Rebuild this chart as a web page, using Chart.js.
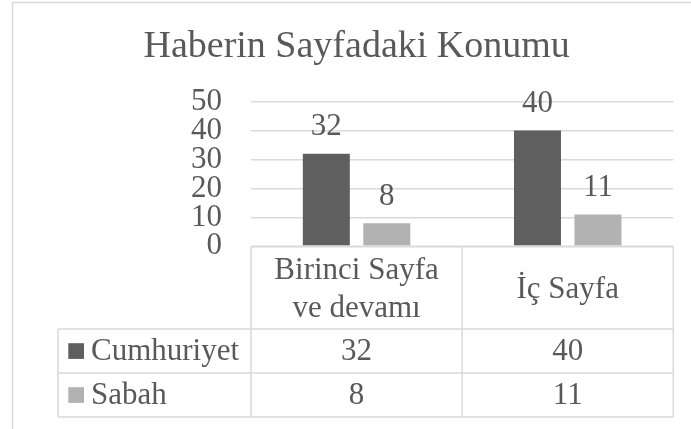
<!DOCTYPE html>
<html>
<head>
<meta charset="utf-8">
<script src="https://cdn.jsdelivr.net/npm/chart.js@4"></script>
<style>
html,body{margin:0;padding:0;background:#fff;}
#wrap{width:691px;height:429px;position:relative;}
</style>
</head>
<body>
<div id="wrap"><canvas id="c" width="691" height="429"></canvas></div>
<script>
const titleText = 'Haberin Sayfadaki Konumu';
const categories = [['Birinci Sayfa', 've devamı'], 'İç Sayfa'];
const seriesNames = ['Cumhuriyet', 'Sabah'];
const cumhuriyet = [32, 40];
const sabah = [8, 11];
const seriesColors = ['#5f5f5f', '#b2b2b2'];
const yMin = 0, yMax = 50, yStep = 10;

const FONT = "'Liberation Serif', 'Times New Roman', serif";
const TXT = '#595959';
const LINE = '#d9d9d9';

const borderPlugin = {
  id: 'outerBorder',
  beforeDraw(chart) {
    const ctx = chart.ctx;
    ctx.save();
    ctx.strokeStyle = LINE;
    ctx.lineWidth = 1.5;
    ctx.strokeRect(12.5, 2.5, 1000, 1000);
    ctx.restore();
  }
};

const labelPlugin = {
  id: 'barLabels',
  afterDatasetsDraw(chart) {
    const ctx = chart.ctx;
    ctx.save();
    ctx.font = '31px ' + FONT;
    ctx.fillStyle = TXT;
    ctx.textAlign = 'center';
    ctx.textBaseline = 'alphabetic';
    chart.data.datasets.forEach((ds, di) => {
      const meta = chart.getDatasetMeta(di);
      meta.data.forEach((bar, i) => {
        ctx.fillText(String(ds.data[i]), bar.x, bar.y - 18.5);
      });
    });
    ctx.restore();
  }
};

const tablePlugin = {
  id: 'dataTable',
  afterDraw(chart) {
    const ctx = chart.ctx;
    const area = chart.chartArea;
    const xs = chart.scales.x;
    const left = area.left, right = area.right;
    const mid = xs.getPixelForValue(0.5);
    const legendLeft = 58;
    const top = area.bottom;
    const rows = [top, 329, 373, 417];
    ctx.save();
    ctx.strokeStyle = LINE;
    ctx.lineWidth = 1.5;
    ctx.beginPath();
    ctx.moveTo(left, rows[0]); ctx.lineTo(right, rows[0]);
    ctx.moveTo(legendLeft, rows[1]); ctx.lineTo(right, rows[1]);
    ctx.moveTo(legendLeft, rows[2]); ctx.lineTo(right, rows[2]);
    ctx.moveTo(legendLeft, rows[3]); ctx.lineTo(right, rows[3]);
    ctx.moveTo(left, rows[0]); ctx.lineTo(left, rows[3]);
    ctx.moveTo(mid, rows[0]); ctx.lineTo(mid, rows[3]);
    ctx.moveTo(right, rows[0]); ctx.lineTo(right, rows[3]);
    ctx.moveTo(legendLeft, rows[1]); ctx.lineTo(legendLeft, rows[3]);
    ctx.stroke();

    ctx.font = '31px ' + FONT;
    ctx.fillStyle = TXT;
    ctx.textAlign = 'center';
    ctx.textBaseline = 'alphabetic';
    const centers = [(left + mid) / 2, (mid + right) / 2];
    const headCenter = (rows[0] + rows[1]) / 2;
    chart.data.labels.forEach((lab, i) => {
      const lines = Array.isArray(lab) ? lab : [lab];
      const lh = 37.4;
      const startY = headCenter + 10.2 - (lines.length - 1) * lh / 2;
      lines.forEach((ln, k) => ctx.fillText(ln, centers[i], startY + k * lh));
    });
    chart.data.datasets.forEach((ds, di) => {
      const rc = (rows[di + 1] + rows[di + 2]) / 2;
      ds.data.forEach((v, i) => {
        ctx.textAlign = 'center';
        ctx.fillStyle = TXT;
        ctx.fillText(String(v), centers[i], rc + 9.2);
      });
      ctx.fillStyle = ds.backgroundColor;
      ctx.fillRect(68.3, rc - 7.8, 15.7, 15.7);
      ctx.fillStyle = TXT;
      ctx.textAlign = 'left';
      ctx.fillText(ds.label, 91, rc + 9.2);
    });
    ctx.restore();
  }
};

function build() {
  new Chart(document.getElementById('c'), {
    type: 'bar',
    data: {
      labels: categories,
      datasets: [
        { label: seriesNames[0], data: cumhuriyet, backgroundColor: seriesColors[0], borderWidth: 0 },
        { label: seriesNames[1], data: sabah, backgroundColor: seriesColors[1], borderWidth: 0 }
      ]
    },
    options: {
      responsive: false,
      animation: false,
      events: [],
      layout: { padding: { left: 40, right: 17.7, top: 0, bottom: 182.7 } },
      datasets: { bar: { categoryPercentage: 0.573, barPercentage: 0.777 } },
      plugins: {
        legend: { display: false },
        tooltip: { enabled: false },
        title: {
          display: true,
          text: titleText,
          color: TXT,
          font: { family: FONT, size: 38, weight: 'normal', lineHeight: 1.2 },
          padding: { top: 23.9, bottom: 32.2 }
        }
      },
      scales: {
        x: { display: false },
        y: {
          min: yMin, max: yMax,
          afterFit(scale) { scale.width = 211; },
          ticks: { stepSize: yStep, autoSkip: false, padding: 29, color: TXT, font: { family: FONT, size: 31 } },
          grid: { color: LINE, lineWidth: 1.5, drawTicks: false },
          border: { display: false }
        }
      }
    },
    plugins: [borderPlugin, labelPlugin, tablePlugin]
  });
}
if (document.fonts && document.fonts.load) {
  Promise.all([
    document.fonts.load("31px 'Liberation Serif'"),
    document.fonts.load("38px 'Liberation Serif'")
  ]).then(build, build);
} else {
  build();
}
</script>
</body>
</html>
